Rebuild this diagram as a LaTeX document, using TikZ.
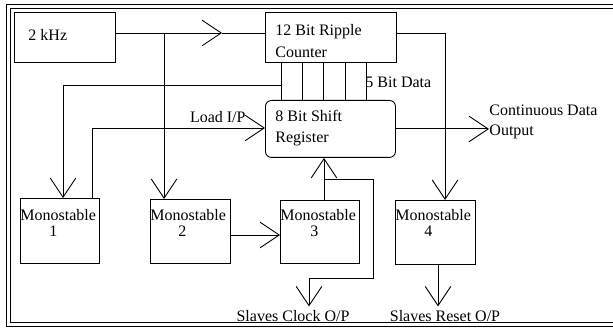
\documentclass[tikz,border=0pt]{standalone}
\usepackage{fontspec}
\setmainfont{Liberation Serif}
\usetikzlibrary{arrows.meta}
\begin{document}
\begin{tikzpicture}[x=1pt,y=-1pt,
  line width=0.9pt,
  font=\fontsize{16}{21}\selectfont,
  box/.style={draw, anchor=north west, inner sep=0pt},
  txt/.style={anchor=base west, inner sep=0pt},
  ctxt/.style={anchor=base, inner sep=0pt},
  arr/.style={-{Straight Barb[length=12pt,width=16pt,scale=1.6]}}]
\useasboundingbox (0,0) rectangle (613,331);
% frame (open on the right, cut by the page edge)
\draw[line width=1.4pt] (620,4.5) -- (6.5,4.5) -- (6.5,326.5) -- (620,326.5);
\draw[line width=1pt] (620,9) -- (10,9) -- (10,322.5) -- (620,322.5);
% boxes
\node[box, minimum width=101pt, minimum height=50pt] (khz) at (14,12) {};
\node[box, minimum width=131pt, minimum height=50pt] (ctr) at (265,12) {};
\node[box, rounded corners=6pt, minimum width=130pt, minimum height=57pt] (reg) at (265,100) {};
\node[box, minimum width=79pt, minimum height=65pt] (m1) at (20,198) {};
\node[box, minimum width=80pt, minimum height=64pt] (m2) at (150,199) {};
\node[box, minimum width=79pt, minimum height=63pt] (m3) at (280,200) {};
\node[box, minimum width=80pt, minimum height=64pt] (m4) at (395,200) {};
% texts
\node[txt] (tkhz) at (28,40.5) {2 kHz};
\node[txt] (tctr1) at (275,35.5) {12 Bit Ripple};
\node[txt] (tctr2) at (275,57.5) {Counter};
\node[txt] (treg1) at (275,121.5) {8 Bit Shift};
\node[txt] (treg2) at (275,142.5) {Register};
\node[txt] (tm1) at (20,220.5) {Monostable};
\node[txt] (dm1) at (49,236.5) {1};
\node[txt] (tm2) at (150,220.5) {Monostable};
\node[txt] (dm2) at (178,236.5) {2};
\node[txt] (tm3) at (280,220.5) {Monostable};
\node[txt] (dm3) at (310,236.5) {3};
\node[txt] (tm4) at (395,220.5) {Monostable};
\node[txt] (dm4) at (424,236.5) {4};
\node[anchor=base east, inner sep=0pt] (load) at (246,122.5) {Load I/P};
\node[txt] (five) at (365,87.5) {5 Bit Data};
\node[txt] (cont) at (489,115.5) {Continuous Data};
\node[txt] (out) at (489,135.5) {Output};
\node[ctxt] (sclk) at (293,321) {Slaves Clock O/P};
\node[ctxt] (srst) at (445,321) {Slaves Reset O/P};
% connectors
\coordinate (j1) at (164,33);
\coordinate (mid) at (222,33);
\draw[arr] (khz.east|-j1) -- (mid);
\draw (mid) -- (ctr.west|-j1);
\draw[arr] (j1) -- (j1|-m2.north);
\foreach \x [count=\i] in {281,302,323,345,366} {
  \coordinate (b\i) at (\x,85);
  \draw (b\i|-ctr.south) -- (b\i|-reg.north);
}
\coordinate (k1) at (63,85);
\draw[arr] (b1) -- (k1) -- (k1|-m1.north);
\coordinate (k2) at (92,128);
\draw[arr] (k2|-m1.north) -- (k2) -- (reg.west|-k2);
\coordinate (k3) at (445,33);
\draw[arr] (ctr.east|-k3) -- (k3) -- (k3|-m4.north);
\draw[arr] (reg.east) -- (reg.east-|out.west);
\coordinate (k4) at (230,235);
\draw[arr] (k4-|m2.east) -- (k4-|m3.west);
\coordinate (k5) at (324,179);
\draw[arr] (k5|-m3.north) -- (k5|-reg.south);
\coordinate (k6) at (373,278);
\coordinate (k7) at (309,278);
\draw[arr] (k5) -- (k5-|k6) -- (k6) -- (k7) -- ([yshift=3pt]k7|-sclk.north);
\coordinate (k8) at (438,280);
\draw[arr] (k8|-m4.south) -- ([yshift=3pt]k8|-srst.north);
\end{tikzpicture}
\end{document}
